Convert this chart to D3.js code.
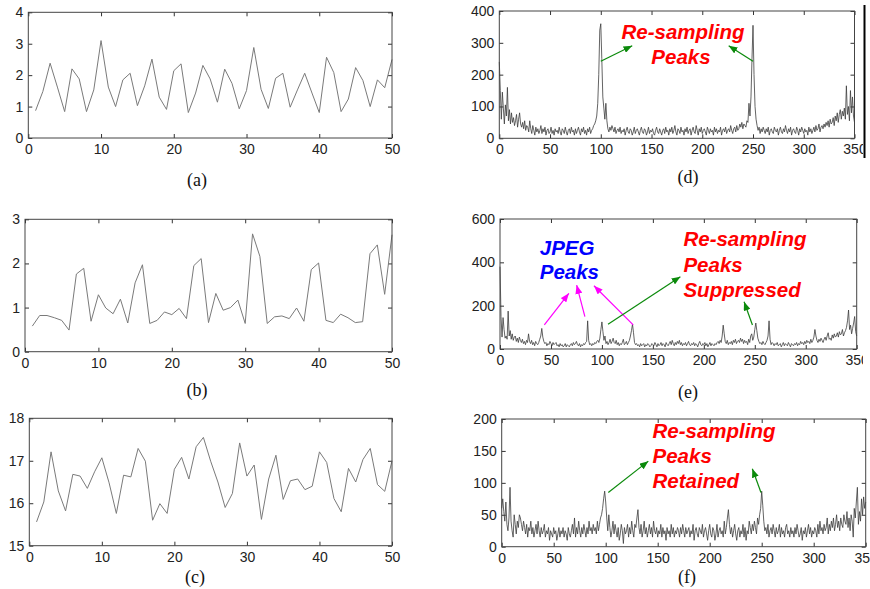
<!DOCTYPE html>
<html>
<head>
<meta charset="utf-8">
<script src="https://cdn.jsdelivr.net/npm/d3@7"></script>
<style>
  body { margin: 0; background: #fff; }
  svg text { font-family: "Liberation Sans", Arial, sans-serif; }
</style>
</head>
<body>
<svg id="fig" width="870" height="589"></svg>
<script>
// ---- data: left column (time series, x = 1..50)
const seriesA = [0.87,1.48,2.38,1.62,0.84,2.2,1.88,0.84,1.53,3.1,1.62,1.0,1.85,2.06,1.03,1.66,2.51,1.3,0.91,2.14,
  2.36,0.81,1.43,2.31,1.88,1.14,2.19,1.74,0.93,1.51,2.88,1.55,0.94,1.9,2.06,0.98,1.53,2.06,1.43,0.81,
  2.57,2.08,0.84,1.24,2.24,1.83,1.0,1.85,1.6,2.5];
const seriesB = [0.58,0.82,0.82,0.77,0.71,0.49,1.76,1.89,0.69,1.29,0.99,0.86,1.19,0.65,1.56,1.97,0.64,0.71,0.9,0.84,
  0.98,0.75,1.95,2.11,0.66,1.32,0.94,1.0,1.17,0.64,2.67,2.16,0.64,0.79,0.81,0.75,0.99,0.69,1.86,2.01,
  0.71,0.66,0.85,0.77,0.66,0.68,2.22,2.42,1.3,2.65];
const seriesC = [15.56,16.03,17.21,16.29,15.82,16.68,16.64,16.35,16.74,17.07,16.48,15.76,16.66,16.62,17.29,16.99,15.6,15.99,15.76,16.8,
  17.08,16.57,17.33,17.55,16.99,16.5,15.9,16.23,17.42,16.64,16.9,15.62,16.57,17.13,16.09,16.53,16.57,16.32,16.4,17.21,
  16.96,16.11,15.8,16.82,16.5,17.03,17.29,16.44,16.28,17.0];

// ---- data: right column (spectra, x = 0..350)
const spectrumD = [
  240,150,60,145,95,45,105,70,160,55, 90,45,80,50,65,40,55,75,35,60, 80,45,35,50,30,55,25,40,35,20,
  55,30,15,40,25,10,35,20,30,15, 25,40,15,30,20,35,10,25,30,15, 20,35,15,25,10,30,20,25,15,35,
  20,10,30,25,15,35,20,10,25,30, 15,35,20,25,10,30,15,25,35,20, 10,30,20,35,15,25,10,30,20,35,
  15,25,30,40,45,55,70,110,200,340, 360,250,130,95,60,110,55,30,20,35, 25,40,30,20,35,15,25,30,20,35,
  15,25,20,30,10,25,35,20,15,30, 25,10,20,35,15,25,30,20,10,25, 35,20,15,30,25,10,20,35,15,25,
  20,30,15,10,25,35,20,15,30,20, 10,25,30,15,35,20,25,10,30,20, 35,15,25,40,20,10,30,25,15,35,
  20,25,10,30,20,35,15,25,30,10, 25,35,20,15,40,25,10,30,20,35, 15,25,30,20,10,35,25,15,30,20,
  25,10,35,20,30,15,25,20,35,10, 25,30,20,35,15,25,30,20,40,25, 15,30,35,20,40,25,30,45,35,50,
  30,45,40,35,55,50,110,70,130,250, 355,200,100,60,40,25,35,15,30,20, 35,25,15,30,20,35,10,25,30,20,
  15,35,25,20,30,10,25,35,20,15, 30,20,40,25,15,30,20,35,10,25, 30,20,15,35,25,10,30,20,35,25,
  15,30,20,25,10,35,20,30,15,25, 35,20,40,25,30,45,20,35,40,30, 45,35,50,40,55,35,60,45,50,65,
  40,70,55,80,50,75,90,60,85,70, 95,60,165,75,100,55,150,80,130,70, 50];
const spectrumE = [
  380,150,55,145,90,50,60,45,175,60, 85,45,70,40,55,60,35,50,30,55, 40,30,45,25,35,20,40,30,70,35,
  25,40,20,30,15,35,25,20,30,45, 60,95,55,35,25,30,15,25,20,35, 25,15,30,20,25,30,15,20,10,25,
  15,20,10,15,25,10,20,15,10,20, 25,15,30,20,25,35,20,15,25,10, 20,15,25,20,30,35,130,40,20,25,
  15,25,20,30,25,35,40,30,50,90, 125,80,40,60,25,35,20,30,45,25, 35,50,30,25,40,20,30,15,25,20,
  30,45,20,25,35,20,30,40,60,85, 115,75,30,20,25,15,20,10,25,15, 20,25,10,20,15,25,20,10,15,25,
  20,15,30,20,10,25,15,20,30,15, 25,20,10,30,20,15,25,35,20,40, 25,15,30,20,35,25,40,20,30,15,
  25,20,30,15,25,35,20,15,25,20, 30,15,25,20,10,25,35,20,15,25, 20,30,15,25,10,20,30,15,25,20,
  15,25,20,30,35,25,40,30,60,110, 70,35,25,40,20,30,25,35,20,40, 30,45,25,35,40,30,50,35,45,25,
  40,30,35,20,45,30,60,70,40,55, 90,120,85,50,35,25,30,20,35,25, 20,30,40,60,130,45,20,30,25,15,
  25,20,30,15,20,25,10,20,30,15, 25,20,15,30,20,10,25,20,15,25, 20,30,15,25,20,35,25,30,20,35,
  25,40,30,35,25,45,30,40,55,90, 60,40,30,45,35,50,40,30,45,55, 40,60,75,45,50,40,65,50,70,55,
  60,75,55,80,65,70,90,60,75,85, 100,130,180,90,110,70,95,120,150,80, 60];
const spectrumF = [
  60,75,55,40,70,35,25,45,93,40, 25,15,50,35,20,40,30,50,45,35, 25,40,30,20,35,15,30,25,40,20,
  30,15,25,35,20,40,25,15,30,20, 25,35,15,25,20,30,10,25,20,15, 30,20,25,10,20,30,15,25,20,30,
  15,25,20,10,30,20,15,25,35,20, 45,15,30,20,40,25,15,30,20,35, 25,15,30,20,40,25,30,20,35,25,
  30,20,40,25,35,45,50,60,75,87, 70,45,25,50,30,15,25,40,20,35, 25,15,30,10,20,35,25,5,30,20,
  25,35,15,30,20,40,25,15,35,30, 45,58,30,20,35,15,25,40,20,30, 15,25,35,20,30,15,40,25,20,30,
  15,25,20,35,15,30,20,25,10,30, 20,25,15,35,20,30,15,25,20,30, 25,15,30,20,35,25,15,30,20,25,
  30,15,25,20,35,10,25,30,20,15, 30,25,20,35,15,25,30,20,10,25, 35,20,15,30,25,10,20,35,15,25,
  30,20,25,15,40,20,30,45,58,35, 20,30,15,25,35,20,10,25,30,15, 25,20,35,15,30,10,25,20,40,30,
  20,35,25,40,30,20,45,35,50,60, 87,65,40,25,30,20,35,15,25,30, 20,35,25,15,30,20,25,35,15,30,
  20,25,15,30,35,20,25,15,30,20, 25,15,30,20,35,25,15,20,30,10, 25,20,30,15,25,35,20,30,15,25,
  20,30,25,15,35,20,40,25,30,20, 35,25,30,45,20,35,25,40,30,45, 25,35,50,30,40,25,45,35,30,50,
  40,35,55,30,45,25,50,40,15,60, 45,70,93,35,55,40,75,50,78,60, 70];

// ---- tick labels
const ticksTime = [0, 10, 20, 30, 40, 50];
const ticksSpec = [0, 50, 100, 150, 200, 250, 300, 350];
const yTicksA = [0, 1, 2, 3, 4];
const yTicksB = [0, 1, 2, 3];
const yTicksC = [15, 16, 17, 18];
const yTicksD = [0, 100, 200, 300, 400];
const yTicksE = [0, 200, 400, 600];
const yTicksF = [0, 50, 100, 150, 200];

// ---- annotations (anchored in data units of their panel)
const notesD = [
  {text: "Re-sampling", x: 181, y: 311, color: "#ff0000", anchor: "middle"},
  {text: "Peaks", x: 179, y: 235, color: "#ff0000", anchor: "middle"}
];
const arrowsD = [
  {x1: 100, y1: 242, x2: 131, y2: 291, color: "#0b8a0b"},
  {x1: 250, y1: 242, x2: 226, y2: 291, color: "#0b8a0b"}
];
const notesE = [
  {text: "JPEG", x: 39, y: 434, color: "#0000ff", anchor: "start"},
  {text: "Peaks", x: 39, y: 322, color: "#0000ff", anchor: "start"},
  {text: "Re-sampling", x: 180, y: 477, color: "#ff0000", anchor: "start"},
  {text: "Peaks", x: 180, y: 357, color: "#ff0000", anchor: "start"},
  {text: "Suppressed", x: 180, y: 241, color: "#ff0000", anchor: "start"}
];
const arrowsE = [
  {x1: 43.5, y1: 111, x2: 67.6, y2: 257, color: "#ff00ff"},
  {x1: 83.3, y1: 149, x2: 75.2, y2: 295, color: "#ff00ff"},
  {x1: 130.7, y1: 111, x2: 92.2, y2: 292, color: "#ff00ff"},
  {x1: 106, y1: 114, x2: 177, y2: 334, color: "#0b8a0b"},
  {x1: 247.7, y1: 111, x2: 239.5, y2: 218, color: "#0b8a0b"}
];
const notesF = [
  {text: "Re-sampling", x: 145, y: 170, color: "#ff0000", anchor: "start"},
  {text: "Peaks", x: 145, y: 130.6, color: "#ff0000", anchor: "start"},
  {text: "Retained", x: 145, y: 91.5, color: "#ff0000", anchor: "start"}
];
const arrowsF = [
  {x1: 102.5, y1: 85, x2: 141, y2: 134, color: "#0b8a0b"},
  {x1: 249.3, y1: 85, x2: 241, y2: 122, color: "#0b8a0b"}
];

const svg = d3.select("#fig");
svg.append("rect").attr("width", 870).attr("height", 589).attr("fill", "#fff");

const defs = svg.append("defs");
["#0b8a0b", "#ff00ff"].forEach((c, i) => {
  defs.append("marker")
    .attr("id", "head" + i)
    .attr("markerUnits", "userSpaceOnUse")
    .attr("viewBox", "0 0 10 8")
    .attr("refX", 10).attr("refY", 4)
    .attr("markerWidth", 9).attr("markerHeight", 7)
    .attr("orient", "auto")
    .append("path").attr("d", "M0,0 L10,4 L0,8 z").attr("fill", c);
});
const headId = c => c === "#ff00ff" ? "url(#head1)" : "url(#head0)";

// the source figure has the "350" labels of (d) and (e) cut at the same place
defs.append("clipPath").attr("id", "clipRight")
  .append("rect").attr("x", 0).attr("y", 0).attr("width", 863).attr("height", 589);

const panels = [
  {box: [28.3, 392, 12.3, 138], xDom: [0, 50], yDom: [0, 4], xt: ticksTime, yt: yTicksA,
   ys: seriesA, x0: 1, stroke: "#7a7a7a", sw: 1, label: "(a)", lab: [197, 186]},
  {box: [25, 392, 219.3, 351.7], xDom: [0, 50], yDom: [0, 3], xt: ticksTime, yt: yTicksB,
   ys: seriesB, x0: 1, stroke: "#7a7a7a", sw: 1, label: "(b)", lab: [197, 396]},
  {box: [29.3, 392, 418.3, 545.7], xDom: [0, 50], yDom: [15, 18], xt: ticksTime, yt: yTicksC,
   ys: seriesC, x0: 1, stroke: "#7a7a7a", sw: 1, label: "(c)", lab: [195, 583]},
  {box: [499.3, 854.5, 11, 138.3], xDom: [0, 350], yDom: [0, 400], xt: ticksSpec, yt: yTicksD,
   ys: spectrumD, x0: 0, stroke: "#3c3c3c", sw: 0.8, label: "(d)", lab: [688, 183],
   notes: notesD, arrows: arrowsD, clip: true},
  {box: [500, 856.7, 219, 349], xDom: [0, 350], yDom: [0, 600], xt: ticksSpec, yt: yTicksE,
   ys: spectrumE, x0: 0, stroke: "#3c3c3c", sw: 0.8, label: "(e)", lab: [688, 398],
   notes: notesE, arrows: arrowsE, clip: true},
  {box: [501.7, 865.7, 419, 546.7], xDom: [0, 350], yDom: [0, 200], xt: ticksSpec, yt: yTicksF,
   ys: spectrumF, x0: 0, stroke: "#3c3c3c", sw: 0.8, label: "(f)", lab: [687, 583],
   notes: notesF, arrows: arrowsF}
];

panels.forEach(p => {
  const [l, r, t, b] = p.box;
  const x = d3.scaleLinear().domain(p.xDom).range([l, r]);
  const y = d3.scaleLinear().domain(p.yDom).range([b, t]);
  const g = svg.append("g");

  const styleAxis = sel => {
    sel.select(".domain").remove();
    sel.selectAll(".tick line").attr("stroke", "#333");
    sel.selectAll("text").attr("font-size", 14).attr("fill", "#222")
      .style("font-family", "'Liberation Sans', Arial, sans-serif");
  };

  const labels = g.append("g").attr("clip-path", p.clip ? "url(#clipRight)" : null);
  labels.append("g").attr("transform", `translate(0,${b})`)
    .call(d3.axisBottom(x).tickValues(p.xt).tickSize(-4).tickPadding(6).tickFormat(d3.format("d")))
    .call(styleAxis);
  labels.append("g").attr("transform", `translate(${l},0)`)
    .call(d3.axisLeft(y).tickValues(p.yt).tickSize(-4).tickPadding(5).tickFormat(d3.format("d")))
    .call(styleAxis);
  g.append("g").attr("transform", `translate(0,${t})`)
    .call(d3.axisTop(x).tickValues(p.xt).tickSize(-4).tickFormat(""))
    .call(styleAxis);
  g.append("g").attr("transform", `translate(${r},0)`)
    .call(d3.axisRight(y).tickValues(p.yt).tickSize(-4).tickFormat(""))
    .call(styleAxis);

  const line = d3.line().x((d, i) => x(p.x0 + i)).y(d => y(d));
  g.append("path").datum(p.ys)
    .attr("d", line)
    .attr("fill", "none")
    .attr("stroke", p.stroke)
    .attr("stroke-width", p.sw)
    .attr("stroke-linejoin", "round");

  g.append("rect")
    .attr("x", l).attr("y", t).attr("width", r - l).attr("height", b - t)
    .attr("fill", "none").attr("stroke", "#444").attr("stroke-width", 1);

  (p.arrows || []).forEach(a => {
    g.append("line")
      .attr("x1", x(a.x1)).attr("y1", y(a.y1))
      .attr("x2", x(a.x2)).attr("y2", y(a.y2))
      .attr("stroke", a.color).attr("stroke-width", 1.2)
      .attr("marker-end", headId(a.color));
  });

  (p.notes || []).forEach(n => {
    g.append("text")
      .attr("x", x(n.x)).attr("y", y(n.y))
      .attr("text-anchor", n.anchor)
      .attr("fill", n.color)
      .attr("font-size", 20.5)
      .attr("font-weight", "bold")
      .attr("font-style", "italic")
      .text(n.text);
  });

  svg.append("text")
    .attr("x", p.lab[0]).attr("y", p.lab[1])
    .attr("text-anchor", "middle")
    .attr("font-size", 18)
    .style("font-family", "'Liberation Serif', 'Times New Roman', serif")
    .attr("fill", "#111")
    .text(p.label);
});

// thin black rule at the right of panel (d), as in the source page
svg.append("line")
  .attr("x1", 864.5).attr("x2", 864.5).attr("y1", 5).attr("y2", 158)
  .attr("stroke", "#000").attr("stroke-width", 2);
</script>
</body>
</html>
